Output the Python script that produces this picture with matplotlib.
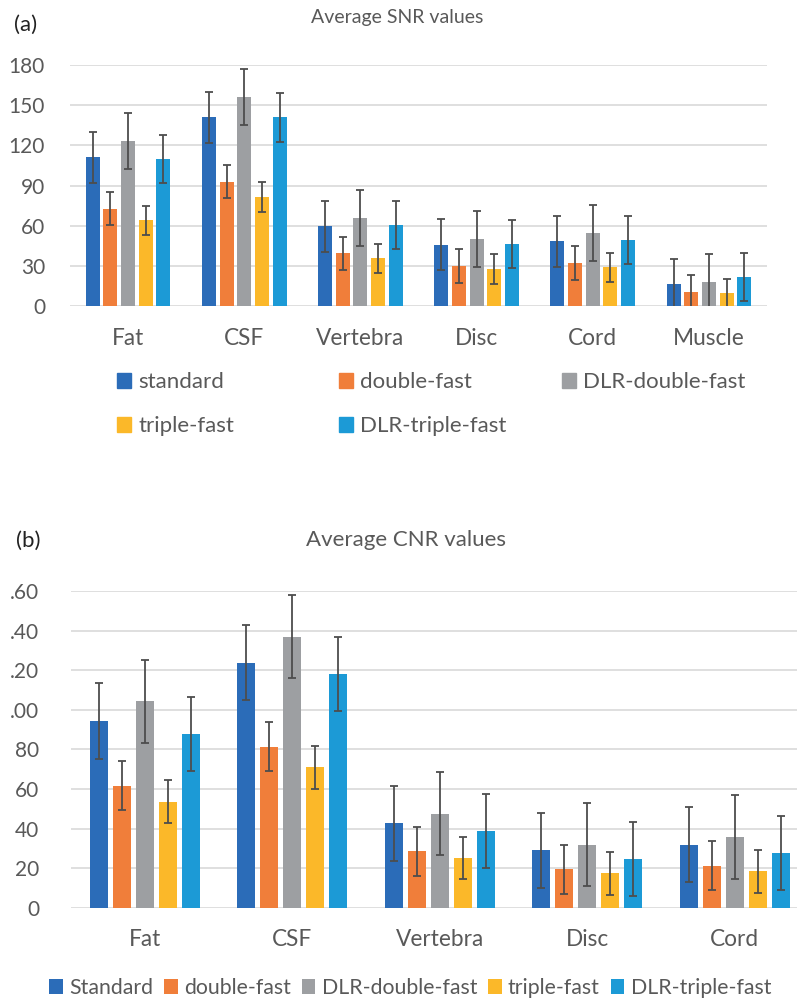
import numpy as np
import matplotlib
matplotlib.use("Agg")
import matplotlib.pyplot as plt
from matplotlib.patches import Patch

plt.rcParams['font.family'] = ['Lato', 'DejaVu Sans']

# =========================
# Data
# =========================
series = ["standard", "double-fast", "DLR-double-fast", "triple-fast", "DLR-triple-fast"]
series_b = ["Standard", "double-fast", "DLR-double-fast", "triple-fast", "DLR-triple-fast"]
colors = ["#2B6CB8", "#F07E3A", "#9D9FA2", "#FBB829", "#1C9AD6"]

snr_tissues = ["Fat", "CSF", "Vertebra", "Disc", "Cord", "Muscle"]
snr_standard = [111, 141, 59.5, 45.7, 48.5, 16.3]
snr_double = [72.7, 92.8, 39.3, 30, 32, 10.7]
snr_dlr_double = [123, 156, 65.8, 50.3, 54.3, 18]
snr_triple = [64, 81.5, 35.5, 27.5, 28.8, 9.5]
snr_dlr_triple = [110, 140.8, 60.3, 46.3, 49.3, 21.5]
snr_err_standard = [19, 19, 19, 19, 19, 19]
snr_err_double = [12.5, 12.5, 12.5, 12.5, 12.5, 12.5]
snr_err_dlr_double = [21, 21, 21, 21, 21, 21]
snr_err_triple = [11, 11, 11, 11, 11, 11]
snr_err_dlr_triple = [18, 18, 18, 18, 18, 18]
snr_ticks = [0, 30, 60, 90, 120, 150, 180]

cnr_tissues = ["Fat", "CSF", "Vertebra", "Disc", "Cord"]
cnr_standard = [94.3, 123.8, 42.6, 29, 31.8]
cnr_double = [61.7, 81.4, 28.5, 19.4, 21.2]
cnr_dlr_double = [104.3, 137, 47.5, 31.8, 35.7]
cnr_triple = [53.6, 70.9, 25.1, 17.4, 18.4]
cnr_dlr_triple = [87.9, 118.1, 38.6, 24.8, 27.6]
cnr_err_standard = [19, 19, 19, 19, 19]
cnr_err_double = [12.5, 12.5, 12.5, 12.5, 12.5]
cnr_err_dlr_double = [21, 21, 21, 21, 21]
cnr_err_triple = [10.8, 10.8, 10.8, 10.8, 10.8]
cnr_err_dlr_triple = [18.7, 18.7, 18.7, 18.7, 18.7]
cnr_ticks = [0, 20, 40, 60, 80, 100, 120, 140, 160]
cnr_ticklabels = ["0", "20", "40", "60", "80", ".00", ".20", ".40", ".60"]

snr_vals = [snr_standard, snr_double, snr_dlr_double, snr_triple, snr_dlr_triple]
snr_errs = [snr_err_standard, snr_err_double, snr_err_dlr_double, snr_err_triple, snr_err_dlr_triple]
cnr_vals = [cnr_standard, cnr_double, cnr_dlr_double, cnr_triple, cnr_dlr_triple]
cnr_errs = [cnr_err_standard, cnr_err_double, cnr_err_dlr_double, cnr_err_triple, cnr_err_dlr_triple]

text_col = "#595959"
grid_col = "#D9D9D9"
err_col = "#4D4D4D"


def draw_bars(ax, cats, vals, errs, labels, width, pitch):
    x = np.arange(len(cats))
    for i in range(len(vals)):
        ax.bar(x + (i - 2) * pitch, vals[i], width, color=colors[i], label=labels[i],
               yerr=errs[i], capsize=3,
               error_kw=dict(ecolor=err_col, elinewidth=1.3, capthick=1.3), zorder=3)
    ax.set_xlim(-0.5, len(cats) - 0.5)
    ax.set_xticks(x)
    ax.set_xticklabels(cats, fontsize=16.3)
    for s in ax.spines.values():
        s.set_visible(False)
    ax.yaxis.grid(True, color=grid_col, linewidth=1.2, zorder=0)
    ax.set_axisbelow(True)
    ax.tick_params(axis="both", length=0, colors=text_col)
    ax.tick_params(axis="y", labelsize=15, pad=18)
    ax.tick_params(axis="x", pad=15.5)


fig = plt.figure(figsize=(7.97, 10), dpi=100)

# =========================
# (a) SNR
# =========================
ax1 = fig.add_axes([70 / 797, 1 - 306 / 1000, 697 / 797, 241 / 1000])
draw_bars(ax1, snr_tissues, snr_vals, snr_errs, series, 0.12, 0.152)
ax1.set_ylim(0, 180)
ax1.set_yticks(snr_ticks)

fig.text(397 / 797, 1 - 18 / 1000, "Average SNR values", ha="center", va="center",
         fontsize=14, color=text_col)
fig.text(14 / 797, 1 - 25 / 1000, "(a)", ha="left", va="center", fontsize=16, color="#222222")

# legend laid out like Excel: 3 equal columns, 2 rows
col_x = [117, 339, 562]
row_y = [382, 426]
for i, name in enumerate(series):
    r, c = divmod(i, 3)
    fig.legend(handles=[Patch(color=colors[i], label=name)], loc="center left",
               bbox_to_anchor=(col_x[c] / 797, 1 - row_y[r] / 1000), frameon=False,
               fontsize=16, handlelength=0.65, handleheight=0.65, handletextpad=0.3,
               borderpad=0, borderaxespad=0, labelcolor=text_col)

# =========================
# (b) CNR
# =========================
ax2 = fig.add_axes([71 / 797, 1 - 907.7 / 1000, 737.5 / 797, 316.7 / 1000])
draw_bars(ax2, cnr_tissues, cnr_vals, cnr_errs, series_b, 0.119, 0.156)
ax2.set_ylim(0, 160)
ax2.set_yticks(cnr_ticks)
ax2.set_yticklabels(cnr_ticklabels)
ax2.tick_params(axis="y", pad=23)

fig.text(406 / 797, 1 - 540 / 1000, "Average CNR values", ha="center", va="center",
         fontsize=16, color=text_col)
fig.text(16 / 797, 1 - 541 / 1000, "(b)", ha="left", va="center", fontsize=16, color="#222222")

fig.legend(handles=ax2.get_legend_handles_labels()[0], loc="center left",
           bbox_to_anchor=(49 / 797, 1 - 988 / 1000), ncol=5, frameon=False,
           fontsize=15.3, handlelength=0.65, handleheight=0.65, handletextpad=0.3,
           columnspacing=0.5, borderpad=0, borderaxespad=0, labelcolor=text_col)

plt.savefig("out.png", dpi=100)
